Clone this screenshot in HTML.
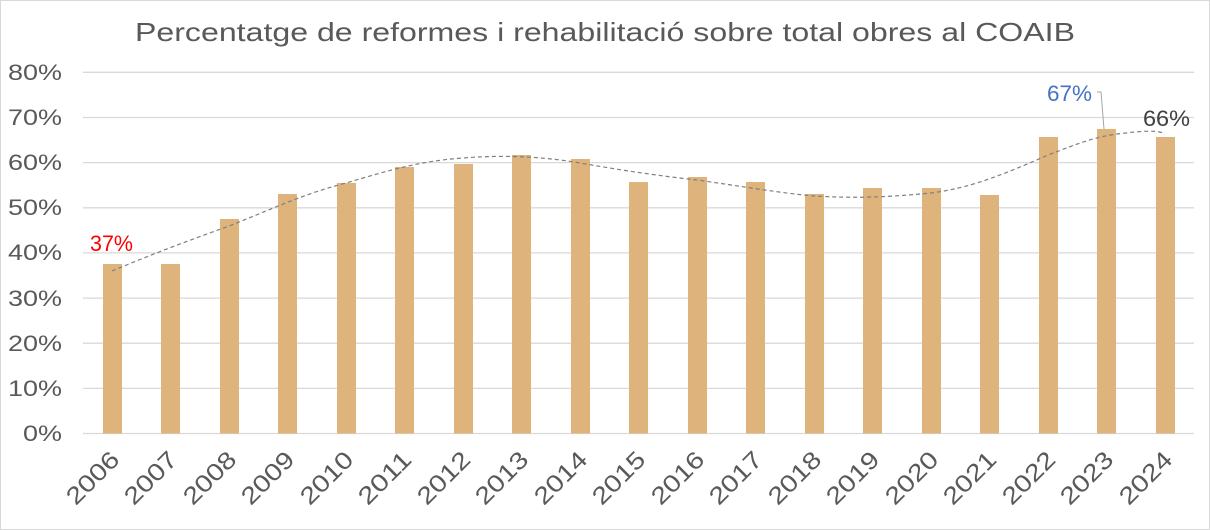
<!DOCTYPE html>
<html><head><meta charset="utf-8"><style>
html,body{margin:0;padding:0;background:#fff}
svg{display:block;font-family:"Liberation Sans",sans-serif}
</style></head><body>
<svg width="1210" height="530" viewBox="0 0 1210 530">
<rect x="0.5" y="0.5" width="1209" height="529" fill="#fff" stroke="#d9d9d9"/>
<text x="135" y="41" font-size="26" fill="#595959" textLength="940" lengthAdjust="spacingAndGlyphs">Percentatge de reformes i rehabilitació sobre total obres al COAIB</text>
<g stroke="#d9d9d9" stroke-width="1.3">
<line x1="83" x2="1194" y1="72.3" y2="72.3"/><line x1="83" x2="1194" y1="117.5" y2="117.5"/>
<line x1="83" x2="1194" y1="162.6" y2="162.6"/><line x1="83" x2="1194" y1="207.8" y2="207.8"/>
<line x1="83" x2="1194" y1="252.9" y2="252.9"/><line x1="83" x2="1194" y1="298.1" y2="298.1"/>
<line x1="83" x2="1194" y1="343.2" y2="343.2"/><line x1="83" x2="1194" y1="388.4" y2="388.4"/>
<line x1="83" x2="1194" y1="433.5" y2="433.5"/>
</g>
<g font-size="22" fill="#595959">
<text x="8" y="80" textLength="54" lengthAdjust="spacingAndGlyphs">80%</text>
<text x="8" y="125" textLength="54" lengthAdjust="spacingAndGlyphs">70%</text>
<text x="8" y="170" textLength="54" lengthAdjust="spacingAndGlyphs">60%</text>
<text x="8" y="215" textLength="54" lengthAdjust="spacingAndGlyphs">50%</text>
<text x="8" y="260" textLength="54" lengthAdjust="spacingAndGlyphs">40%</text>
<text x="8" y="306" textLength="54" lengthAdjust="spacingAndGlyphs">30%</text>
<text x="8" y="351" textLength="54" lengthAdjust="spacingAndGlyphs">20%</text>
<text x="8" y="396" textLength="54" lengthAdjust="spacingAndGlyphs">10%</text>
<text x="23" y="441" textLength="39" lengthAdjust="spacingAndGlyphs">0%</text>
</g>
<g fill="#deb37c">
<rect x="103" y="264" width="19" height="169.5"/>
<rect x="161" y="264" width="19" height="169.5"/>
<rect x="220" y="219" width="19" height="214.5"/>
<rect x="278" y="194" width="19" height="239.5"/>
<rect x="337" y="183" width="19" height="250.5"/>
<rect x="395" y="167" width="19" height="266.5"/>
<rect x="454" y="164" width="19" height="269.5"/>
<rect x="512" y="155" width="19" height="278.5"/>
<rect x="571" y="159" width="19" height="274.5"/>
<rect x="629" y="182" width="19" height="251.5"/>
<rect x="688" y="177" width="19" height="256.5"/>
<rect x="746" y="182" width="19" height="251.5"/>
<rect x="805" y="194" width="19" height="239.5"/>
<rect x="863" y="188" width="19" height="245.5"/>
<rect x="922" y="188" width="19" height="245.5"/>
<rect x="980" y="195" width="19" height="238.5"/>
<rect x="1039" y="137" width="19" height="296.5"/>
<rect x="1097" y="129" width="19" height="304.5"/>
<rect x="1156" y="137" width="19" height="296.5"/>
</g>
<path d="M112,271 C150,255 190,240 229,226 C270,210 300,195 346,183 C390,170 420,161 463,158 C500,155 540,156 580,163 C620,170 660,176 697,180 C740,186 780,193 814,196 C850,198 880,198 931,193 C960,189 985,183 1048,155 C1080,143 1095,136 1126,133 C1150,130 1160,131 1165,134" fill="none" stroke="#7f7f7f" stroke-width="1.2" stroke-dasharray="4,3"/>
<text x="90" y="251" font-size="22" fill="#ff0000" textLength="43" lengthAdjust="spacingAndGlyphs">37%</text>
<text x="1047" y="101" font-size="22" fill="#4472c4" textLength="45" lengthAdjust="spacingAndGlyphs">67%</text>
<polyline points="1097,92 1101,92 1104,129" fill="none" stroke="#a6a6a6" stroke-width="1"/>
<text x="1143" y="126" font-size="22" fill="#404040" textLength="47" lengthAdjust="spacingAndGlyphs">66%</text>
<g font-size="24" fill="#595959" text-anchor="end">
<text transform="translate(121,461) rotate(-45)" textLength="64" lengthAdjust="spacingAndGlyphs">2006</text>
<text transform="translate(179,461) rotate(-45)" textLength="64" lengthAdjust="spacingAndGlyphs">2007</text>
<text transform="translate(238,461) rotate(-45)" textLength="64" lengthAdjust="spacingAndGlyphs">2008</text>
<text transform="translate(296,461) rotate(-45)" textLength="64" lengthAdjust="spacingAndGlyphs">2009</text>
<text transform="translate(355,461) rotate(-45)" textLength="64" lengthAdjust="spacingAndGlyphs">2010</text>
<text transform="translate(413,461) rotate(-45)" textLength="64" lengthAdjust="spacingAndGlyphs">2011</text>
<text transform="translate(472,461) rotate(-45)" textLength="64" lengthAdjust="spacingAndGlyphs">2012</text>
<text transform="translate(530,461) rotate(-45)" textLength="64" lengthAdjust="spacingAndGlyphs">2013</text>
<text transform="translate(589,461) rotate(-45)" textLength="64" lengthAdjust="spacingAndGlyphs">2014</text>
<text transform="translate(647,461) rotate(-45)" textLength="64" lengthAdjust="spacingAndGlyphs">2015</text>
<text transform="translate(706,461) rotate(-45)" textLength="64" lengthAdjust="spacingAndGlyphs">2016</text>
<text transform="translate(764,461) rotate(-45)" textLength="64" lengthAdjust="spacingAndGlyphs">2017</text>
<text transform="translate(823,461) rotate(-45)" textLength="64" lengthAdjust="spacingAndGlyphs">2018</text>
<text transform="translate(881,461) rotate(-45)" textLength="64" lengthAdjust="spacingAndGlyphs">2019</text>
<text transform="translate(940,461) rotate(-45)" textLength="64" lengthAdjust="spacingAndGlyphs">2020</text>
<text transform="translate(998,461) rotate(-45)" textLength="64" lengthAdjust="spacingAndGlyphs">2021</text>
<text transform="translate(1057,461) rotate(-45)" textLength="64" lengthAdjust="spacingAndGlyphs">2022</text>
<text transform="translate(1115,461) rotate(-45)" textLength="64" lengthAdjust="spacingAndGlyphs">2023</text>
<text transform="translate(1174,461) rotate(-45)" textLength="64" lengthAdjust="spacingAndGlyphs">2024</text>
</g>
</svg>
</body></html>
